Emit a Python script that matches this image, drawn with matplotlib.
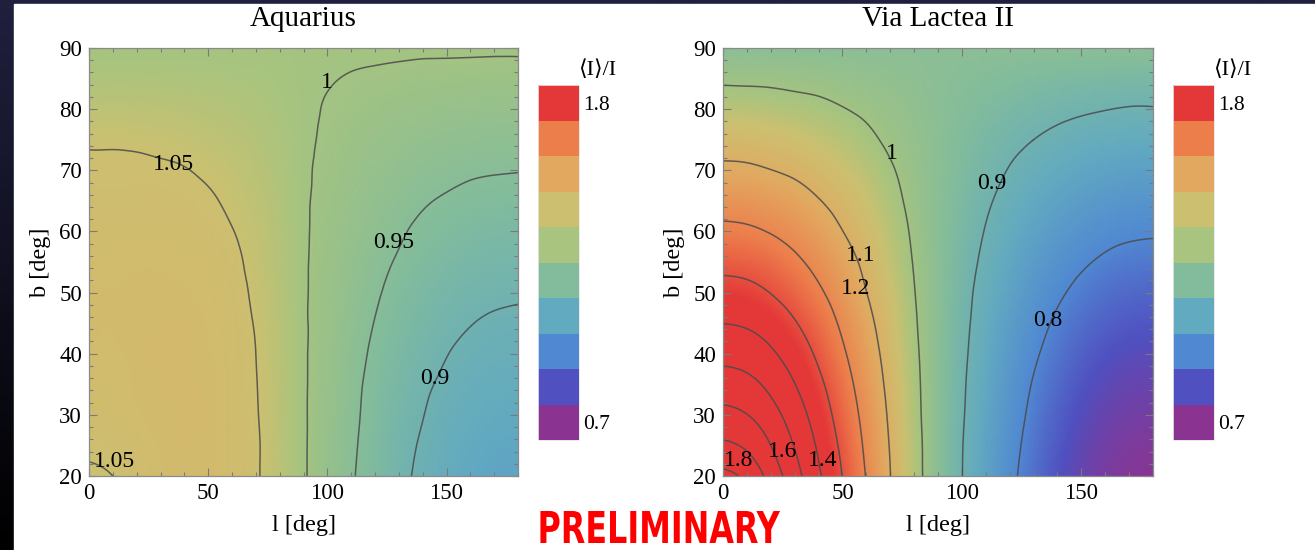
import numpy as np
import matplotlib
matplotlib.use('Agg')
import matplotlib.pyplot as plt
import matplotlib.tri as mtri
from matplotlib import patheffects
from matplotlib.colors import LinearSegmentedColormap, ListedColormap, BoundaryNorm, Normalize
from matplotlib.colorbar import ColorbarBase
from matplotlib.patches import Rectangle
from matplotlib.ticker import MultipleLocator
from matplotlib.transforms import Affine2D

plt.rcParams['font.family'] = ['Liberation Serif', 'DejaVu Serif', 'DejaVu Sans']

# latitude rows (deg) and longitude columns (deg), shared by both maps
b_deg = [20, 25, 30, 35, 40, 45, 50, 55, 60, 65, 70, 75, 80, 85, 90]
l_deg = [0, 10, 20, 30, 40, 50, 60, 70, 80, 90, 100, 110, 120, 130, 140, 150, 160, 170, 180]

ratio_aq = [
    [1.046, 1.050, 1.058, 1.066, 1.068, 1.068, 1.063, 1.053, 1.031, 1.004, 0.978, 0.954, 0.931, 0.910, 0.892, 0.878, 0.867, 0.860, 0.858],
    [1.054, 1.057, 1.063, 1.067, 1.069, 1.068, 1.063, 1.053, 1.031, 1.004, 0.979, 0.956, 0.934, 0.913, 0.896, 0.882, 0.872, 0.865, 0.863],
    [1.060, 1.062, 1.066, 1.068, 1.070, 1.068, 1.063, 1.052, 1.030, 1.004, 0.980, 0.958, 0.937, 0.917, 0.901, 0.887, 0.878, 0.872, 0.870],
    [1.064, 1.065, 1.067, 1.069, 1.070, 1.068, 1.063, 1.051, 1.030, 1.004, 0.982, 0.960, 0.940, 0.922, 0.906, 0.894, 0.884, 0.879, 0.877],
    [1.066, 1.066, 1.068, 1.070, 1.070, 1.067, 1.062, 1.050, 1.029, 1.004, 0.983, 0.963, 0.944, 0.927, 0.913, 0.901, 0.892, 0.887, 0.885],
    [1.068, 1.067, 1.069, 1.069, 1.069, 1.066, 1.061, 1.048, 1.028, 1.004, 0.985, 0.966, 0.949, 0.933, 0.920, 0.909, 0.901, 0.896, 0.894],
    [1.067, 1.067, 1.068, 1.068, 1.067, 1.065, 1.059, 1.045, 1.026, 1.004, 0.986, 0.970, 0.954, 0.940, 0.927, 0.917, 0.910, 0.906, 0.904],
    [1.065, 1.065, 1.066, 1.066, 1.065, 1.063, 1.056, 1.042, 1.025, 1.004, 0.988, 0.973, 0.959, 0.947, 0.936, 0.927, 0.920, 0.916, 0.915],
    [1.063, 1.062, 1.063, 1.063, 1.062, 1.059, 1.051, 1.039, 1.023, 1.004, 0.990, 0.977, 0.966, 0.954, 0.944, 0.937, 0.931, 0.927, 0.926],
    [1.059, 1.058, 1.059, 1.059, 1.057, 1.053, 1.045, 1.034, 1.021, 1.004, 0.992, 0.981, 0.971, 0.962, 0.953, 0.947, 0.942, 0.939, 0.938],
    [1.054, 1.054, 1.054, 1.053, 1.051, 1.046, 1.039, 1.029, 1.018, 1.004, 0.995, 0.986, 0.977, 0.970, 0.963, 0.958, 0.954, 0.952, 0.951],
    [1.047, 1.047, 1.046, 1.044, 1.041, 1.036, 1.031, 1.024, 1.015, 1.004, 0.997, 0.990, 0.984, 0.978, 0.973, 0.969, 0.966, 0.964, 0.964],
    [1.033, 1.033, 1.032, 1.031, 1.029, 1.026, 1.023, 1.018, 1.012, 1.004, 0.999, 0.995, 0.990, 0.986, 0.983, 0.980, 0.978, 0.977, 0.977],
    [1.018, 1.018, 1.018, 1.018, 1.017, 1.016, 1.014, 1.012, 1.009, 1.004, 1.001, 0.999, 0.997, 0.995, 0.993, 0.992, 0.991, 0.990, 0.990],
    [1.004, 1.004, 1.004, 1.004, 1.004, 1.004, 1.004, 1.004, 1.004, 1.004, 1.004, 1.004, 1.004, 1.004, 1.004, 1.004, 1.004, 1.004, 1.004],
]

ratio_vl = [
    [1.829, 1.775, 1.663, 1.538, 1.414, 1.298, 1.196, 1.101, 1.025, 0.957, 0.901, 0.856, 0.813, 0.776, 0.744, 0.718, 0.700, 0.689, 0.685],
    [1.718, 1.684, 1.600, 1.495, 1.386, 1.281, 1.185, 1.096, 1.023, 0.957, 0.902, 0.859, 0.818, 0.782, 0.752, 0.726, 0.708, 0.697, 0.693],
    [1.628, 1.602, 1.538, 1.450, 1.354, 1.260, 1.172, 1.089, 1.019, 0.957, 0.905, 0.863, 0.824, 0.789, 0.760, 0.736, 0.718, 0.708, 0.704],
    [1.546, 1.527, 1.475, 1.402, 1.320, 1.238, 1.156, 1.081, 1.016, 0.957, 0.907, 0.868, 0.830, 0.797, 0.770, 0.747, 0.730, 0.720, 0.717],
    [1.470, 1.456, 1.414, 1.354, 1.284, 1.212, 1.139, 1.072, 1.012, 0.957, 0.910, 0.873, 0.838, 0.807, 0.781, 0.760, 0.744, 0.735, 0.732],
    [1.399, 1.388, 1.355, 1.306, 1.249, 1.186, 1.121, 1.062, 1.007, 0.957, 0.913, 0.878, 0.846, 0.818, 0.793, 0.774, 0.760, 0.751, 0.748],
    [1.334, 1.325, 1.298, 1.260, 1.212, 1.159, 1.101, 1.052, 1.002, 0.957, 0.916, 0.884, 0.856, 0.829, 0.807, 0.789, 0.776, 0.768, 0.765],
    [1.274, 1.267, 1.247, 1.215, 1.176, 1.131, 1.084, 1.040, 0.997, 0.957, 0.920, 0.891, 0.866, 0.842, 0.822, 0.806, 0.794, 0.787, 0.784],
    [1.218, 1.212, 1.196, 1.172, 1.139, 1.101, 1.066, 1.029, 0.992, 0.957, 0.925, 0.898, 0.876, 0.856, 0.838, 0.824, 0.813, 0.807, 0.805],
    [1.165, 1.161, 1.148, 1.129, 1.103, 1.077, 1.048, 1.017, 0.986, 0.957, 0.930, 0.906, 0.887, 0.870, 0.855, 0.843, 0.834, 0.828, 0.827],
    [1.114, 1.111, 1.101, 1.089, 1.072, 1.052, 1.029, 1.005, 0.981, 0.957, 0.935, 0.915, 0.898, 0.884, 0.873, 0.863, 0.856, 0.851, 0.850],
    [1.071, 1.069, 1.063, 1.054, 1.041, 1.027, 1.010, 0.992, 0.975, 0.957, 0.940, 0.924, 0.911, 0.900, 0.891, 0.883, 0.878, 0.875, 0.874],
    [1.030, 1.029, 1.025, 1.019, 1.012, 1.002, 0.992, 0.981, 0.969, 0.957, 0.946, 0.935, 0.925, 0.916, 0.910, 0.905, 0.901, 0.898, 0.898],
    [0.992, 0.991, 0.990, 0.987, 0.984, 0.979, 0.974, 0.969, 0.963, 0.957, 0.951, 0.946, 0.941, 0.936, 0.932, 0.929, 0.927, 0.925, 0.925],
    [0.957, 0.957, 0.957, 0.957, 0.957, 0.957, 0.957, 0.957, 0.957, 0.957, 0.957, 0.957, 0.957, 0.957, 0.957, 0.957, 0.957, 0.957, 0.957],
]

levels_aq = [0.9, 0.95, 1.0, 1.05]
levels_vl = [0.8, 0.9, 1.0, 1.1, 1.2, 1.3, 1.4, 1.5, 1.6, 1.7, 1.8]

# contour label placements (level, l, b)
labels_aq = [(1.0, 99.9, 84.4), (1.05, 35.5, 70.9), (0.95, 127.8, 58.2),
             (0.9, 145.2, 36.0), (1.05, 10.7, 22.3)]
labels_vl = [(1.0, 70.7, 72.7), (1.1, 57.6, 56.1), (1.2, 55.7, 50.7),
             (0.9, 112.6, 67.8), (0.8, 135.8, 45.4), (1.8, 6.7, 22.5),
             (1.6, 24.9, 24.0), (1.4, 41.6, 22.5)]

# legend bands, bottom to top, and the ratio each colour stands for on the map
band_colors = ['#8b3391', '#5050c0', '#5088d2', '#62aac0', '#82bc9c',
               '#a8c47e', '#ccc070', '#e2a860', '#ec7e4c', '#e43838']
band_anchor = [0.68, 0.74, 0.80, 0.87, 0.94, 1.01, 1.05, 1.12, 1.22, 1.34]
cb_ticks = [0.7, 1.8]

vmin, vmax = band_anchor[0], band_anchor[-1]
cmap = LinearSegmentedColormap.from_list(
    'ratio', [((v - vmin) / (vmax - vmin), c) for v, c in zip(band_anchor, band_colors)])
norm = Normalize(vmin, vmax)

W, H = 1315, 550
fig = plt.figure(figsize=(W / 100, H / 100), dpi=100)

# dark slide background with white panel
bg = fig.add_axes([0, 0, 1, 1], zorder=-10)
bg.imshow(np.linspace(0, 1, 256)[:, None], aspect='auto', extent=[0, 1, 0, 1],
          cmap=LinearSegmentedColormap.from_list('bg', ['#20203f', '#000000']))
bg.add_patch(Rectangle((14 / W, 0), 1, 1 - 4 / H, color='white'))
bg.set_xlim(0, 1)
bg.set_ylim(0, 1)
bg.axis('off')


def fmt(v):
    return f'{v:g}'


def panel(rect, crect, ratio, levels, labels, title):
    ax = fig.add_axes(rect)
    L, B = np.meshgrid(l_deg, b_deg)
    tri = mtri.Triangulation(L.ravel(), B.ravel())
    tri_f, z_f = mtri.UniformTriRefiner(tri).refine_field(np.asarray(ratio).ravel(), subdiv=3)
    ax.tripcolor(tri_f, z_f, shading='gouraud', cmap=cmap, norm=norm, rasterized=True)
    ax.tricontour(tri_f, z_f, levels=levels, colors='#4a4a4a', linewidths=1.1, alpha=0.85)
    for lev, x, y in labels:
        ax.text(x, y, fmt(lev), ha='center', va='center', fontsize=17, color='black')

    ax.set_xlim(0, 180)
    ax.set_ylim(20, 90)
    ax.set_xticks([0, 50, 100, 150])
    ax.set_yticks(range(20, 91, 10))
    ax.xaxis.set_minor_locator(MultipleLocator(10))
    ax.yaxis.set_minor_locator(MultipleLocator(2))
    ax.tick_params(which='both', direction='in', top=True, right=True,
                   color='#7a7a7a', width=0.8, labelsize=16.5)
    ax.tick_params(which='major', length=6, pad=5)
    ax.tick_params(which='minor', length=3)
    for s in ax.spines.values():
        s.set_color('#8a8a8a')
        s.set_linewidth(0.9)
    ax.set_xlabel('l [deg]', fontsize=17.5, labelpad=8)
    ax.set_ylabel('b [deg]', fontsize=17.5, labelpad=6)
    ax.set_title(title, fontsize=21, pad=16)

    cax = fig.add_axes(crect)
    step = (cb_ticks[1] - cb_ticks[0]) / (len(band_colors) - 1)
    bounds = cb_ticks[0] - step / 2 + step * np.arange(len(band_colors) + 1)
    cb = ColorbarBase(cax, cmap=ListedColormap(band_colors),
                      norm=BoundaryNorm(bounds, len(band_colors)), ticks=cb_ticks)
    cb.minorticks_off()
    cb.set_ticklabels([fmt(t) for t in cb_ticks])
    cb.outline.set_edgecolor('#e6e6e6')
    cb.outline.set_linewidth(0.6)
    cax.tick_params(which='both', length=0, labelsize=15.5, pad=3)
    cax.text(0.98, 1.015, '\u27e8I\u27e9/I', transform=cax.transAxes, ha='left', va='bottom',
             fontsize=16)
    return ax


panel([89 / W, 1 - 476 / H, 429 / W, 428 / H], [538 / W, 1 - 440 / H, 41 / W, 355 / H],
      ratio_aq, levels_aq, labels_aq, 'Aquarius')
panel([723 / W, 1 - 476 / H, 430 / W, 428 / H], [1173 / W, 1 - 440 / H, 41 / W, 355 / H],
      ratio_vl, levels_vl, labels_vl, 'Via Lactea II')


class Squeeze(patheffects.AbstractPathEffect):
    """Draw text narrower around a fixed x (display pixels)."""

    def __init__(self, sx, x0):
        super().__init__()
        self.sx, self.x0 = sx, x0

    def draw_path(self, renderer, gc, tpath, affine, rgbFace=None):
        aff = affine + Affine2D().translate(-self.x0, 0).scale(self.sx, 1).translate(self.x0, 0)
        renderer.draw_path(gc, tpath, aff, rgbFace)


fig.text(658.5 / W, 1 - 543 / H, 'PRELIMINARY', color='#ff0000', fontsize=31.6,
         fontweight='bold', family='DejaVu Sans', ha='center', va='baseline',
         path_effects=[Squeeze(0.725, 658.5)])

fig.savefig('out.png', dpi=100)
